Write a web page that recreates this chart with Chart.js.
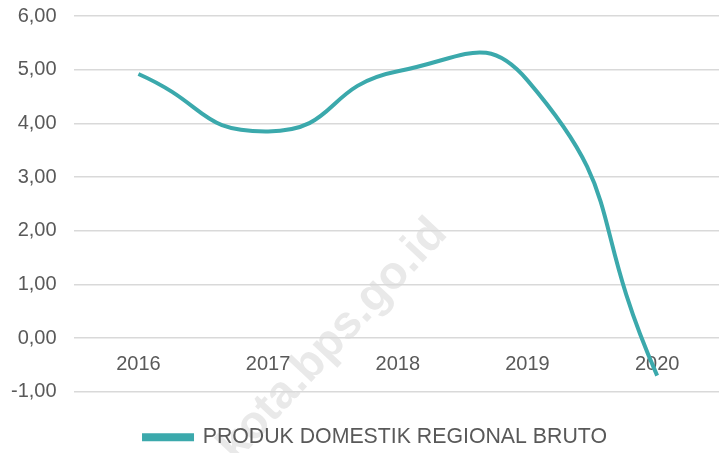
<!DOCTYPE html>
<html>
<head>
<meta charset="utf-8">
<script src="https://cdn.jsdelivr.net/npm/chart.js@4/dist/chart.umd.min.js"></script>
<style>
  html, body { margin: 0; padding: 0; background: #fff; overflow: hidden; }
  #wrap { width: 726px; height: 453px; position: relative; }
</style>
</head>
<body>
<div id="wrap"><canvas id="c"></canvas></div>
<script>
const YEARS = ['2016', '2017', '2018', '2019', '2020'];
const PDRB = [4.92, 3.85, 4.97, 4.80, -0.70];
const SERIES_LABEL = 'PRODUK DOMESTIK REGIONAL BRUTO';
const Y_MIN = -1;
const Y_MAX = 6;
const WATERMARK = 'kota.bps.go.id';

const TEAL = '#3BA9AC';
const TEXT = '#595959';
const GRID = '#D9D9D9';
const FONT = "'Liberation Sans', Arial, sans-serif";

// faint rotated watermark behind everything
const watermarkPlugin = {
  id: 'watermark',
  beforeDraw(chart) {
    const { ctx } = chart;
    ctx.save();
    ctx.translate(333, 340);
    ctx.rotate(-47 * Math.PI / 180);
    ctx.font = 'bold 46px ' + FONT;
    ctx.fillStyle = '#E9E9E9';
    ctx.textAlign = 'center';
    ctx.textBaseline = 'middle';
    ctx.fillText(WATERMARK, 0, 0);
    ctx.restore();
  },
};

// original legend sits a bit right of the page centre
const legendNudge = {
  id: 'legendNudge',
  afterLayout(chart) {
    if (!chart.legend) return;
    chart.legend.left += 9;
    chart.legend.right += 9;
  },
};

new Chart(document.getElementById('c'), {
  type: 'line',
  data: {
    labels: YEARS,
    datasets: [{
      label: SERIES_LABEL,
      data: PDRB,
      borderColor: TEAL,
      backgroundColor: TEAL,
      borderWidth: 4,
      pointRadius: 0,
      tension: 0.55,
      fill: false,
    }],
  },
  options: {
    responsive: true,
    maintainAspectRatio: false,
    animation: false,
    layout: { padding: { left: 11, right: 4, top: 16, bottom: -5 } },
    plugins: {
      legend: {
        position: 'bottom',
        labels: {
          boxWidth: 48,
          boxHeight: 4,
          color: TEXT,
          font: { family: FONT, size: 21.3 },
          padding: 35,
        },
      },
      tooltip: { enabled: false },
    },
    scales: {
      x: {
        position: { y: 0 },
        offset: true,
        grid: { display: false },
        border: { display: false },
        ticks: { color: TEXT, font: { family: FONT, size: 20 }, padding: 6 },
      },
      y: {
        min: Y_MIN,
        max: Y_MAX,
        // invisible tick marks give the label gap without padding the top
        grid: { color: GRID, lineWidth: 1.5, drawTicks: true, tickLength: 17, tickColor: 'rgba(0,0,0,0)' },
        border: { display: false },
        ticks: {
          stepSize: 1,
          color: TEXT,
          padding: 0,
          font: { family: FONT, size: 20 },
          callback: v => v.toFixed(2).replace('.', ','),
        },
      },
    },
  },
  plugins: [watermarkPlugin, legendNudge],
});
</script>
</body>
</html>
